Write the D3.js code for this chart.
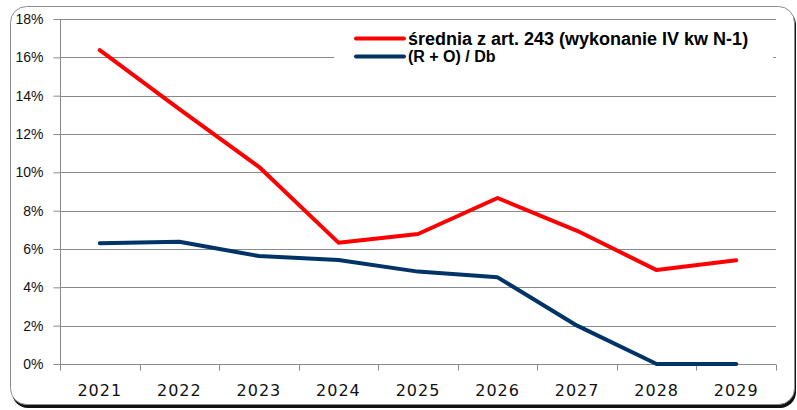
<!DOCTYPE html>
<html><head><meta charset="utf-8">
<script src="https://cdn.jsdelivr.net/npm/d3@7"></script>
<style>html,body{margin:0;padding:0;background:#fff;}svg{display:block;}</style>
</head><body>
<script>
const years = ["2021","2022","2023","2024","2025","2026","2027","2028","2029"];
const sredniaValues = [16.38, 13.3, 10.29, 6.33, 6.78, 8.66, 6.95, 4.9, 5.41];
const roDbValues = [6.3, 6.38, 5.63, 5.43, 4.82, 4.52, 2.0, 0, 0];
const yTicks = [0, 2, 4, 6, 8, 10, 12, 14, 16, 18];
const seriesNames = ["średnia z art. 243 (wykonanie IV kw N-1)", "(R + O) / Db"];
const seriesColors = ["#ff0000", "#003366"];

const W = 797, H = 410;
const svg = d3.select("body").append("svg").attr("width", W).attr("height", H);

// frame with shadow
svg.append("rect").attr("x", 12).attr("y", 9).attr("width", 784).attr("height", 399)
  .attr("rx", 16).attr("fill", "#111");
svg.append("rect").attr("x", 10.5).attr("y", 6.5).attr("width", 784).attr("height", 398)
  .attr("rx", 16).attr("fill", "#fff").attr("stroke", "#8c8c8c").attr("stroke-width", 1);

const x = d3.scaleBand().domain(years).range([60, 776]);
const y = d3.scaleLinear().domain([0, 18]).range([364, 19]);

// gridlines
svg.append("g").selectAll("line").data(yTicks.filter(d => d > 0)).join("line")
  .attr("x1", 60).attr("x2", 776)
  .attr("y1", d => Math.round(y(d)) + 0.5).attr("y2", d => Math.round(y(d)) + 0.5)
  .attr("stroke", "#8a8a8a").attr("stroke-width", 1);

// y axis
const yAxis = d3.axisLeft(y).tickValues(yTicks).tickSize(7).tickPadding(10)
  .tickFormat(d => d + "%");
const gy = svg.append("g").attr("transform", "translate(60.5,0)").call(yAxis);
gy.selectAll("line,path").attr("stroke", "#8a8a8a");
gy.select(".domain").attr("d", `M0,${y(18)}V${y(0)}`);
gy.selectAll("text").attr("font-family", "Liberation Sans, Arial, sans-serif")
  .attr("font-size", 14).attr("fill", "#111");

// x axis
const xAxis = d3.axisBottom(x).tickSize(0).tickPadding(20);
const gx = svg.append("g").attr("transform", `translate(0,${Math.round(y(0)) + 0.5})`).call(xAxis);
gx.select(".domain").attr("stroke", "#8a8a8a").attr("d", "M60,0H776");
gx.selectAll("text").attr("font-family", "DejaVu Sans, Verdana, sans-serif")
  .attr("font-size", 16).attr("letter-spacing", 1).attr("fill", "#111");
// boundary ticks
const bounds = years.map(d => x(d)).concat([x.range()[1]]);
gx.append("g").selectAll("line").data(bounds).join("line")
  .attr("x1", d => Math.round(d) + 0.5).attr("x2", d => Math.round(d) + 0.5)
  .attr("y1", 0).attr("y2", 6).attr("stroke", "#8a8a8a");

// legend background
svg.append("rect").attr("x", 334).attr("y", 24).attr("width", 439).attr("height", 50).attr("fill", "#fff");

// lines
const line = d3.line().x((d, i) => x(years[i]) + x.bandwidth() / 2).y(d => y(d));
[sredniaValues, roDbValues].forEach((vals, i) => {
  svg.append("path").datum(vals).attr("d", line).attr("fill", "none")
    .attr("stroke", seriesColors[i]).attr("stroke-width", 4)
    .attr("stroke-linejoin", "round").attr("stroke-linecap", "round");
});

// legend
const legY = [38.5, 56.5];
const legBase = [45, 62];
const legSize = [18, 16];
seriesNames.forEach((name, i) => {
  svg.append("line").attr("x1", 356).attr("x2", 404).attr("y1", legY[i]).attr("y2", legY[i])
    .attr("stroke", seriesColors[i]).attr("stroke-width", 4).attr("stroke-linecap", "round");
  svg.append("text").attr("x", 408).attr("y", legBase[i])
    .attr("font-family", "Liberation Sans, Arial, sans-serif").attr("font-weight", "bold")
    .attr("font-size", legSize[i]).attr("fill", "#000").text(name);
});
</script>
</body></html>
